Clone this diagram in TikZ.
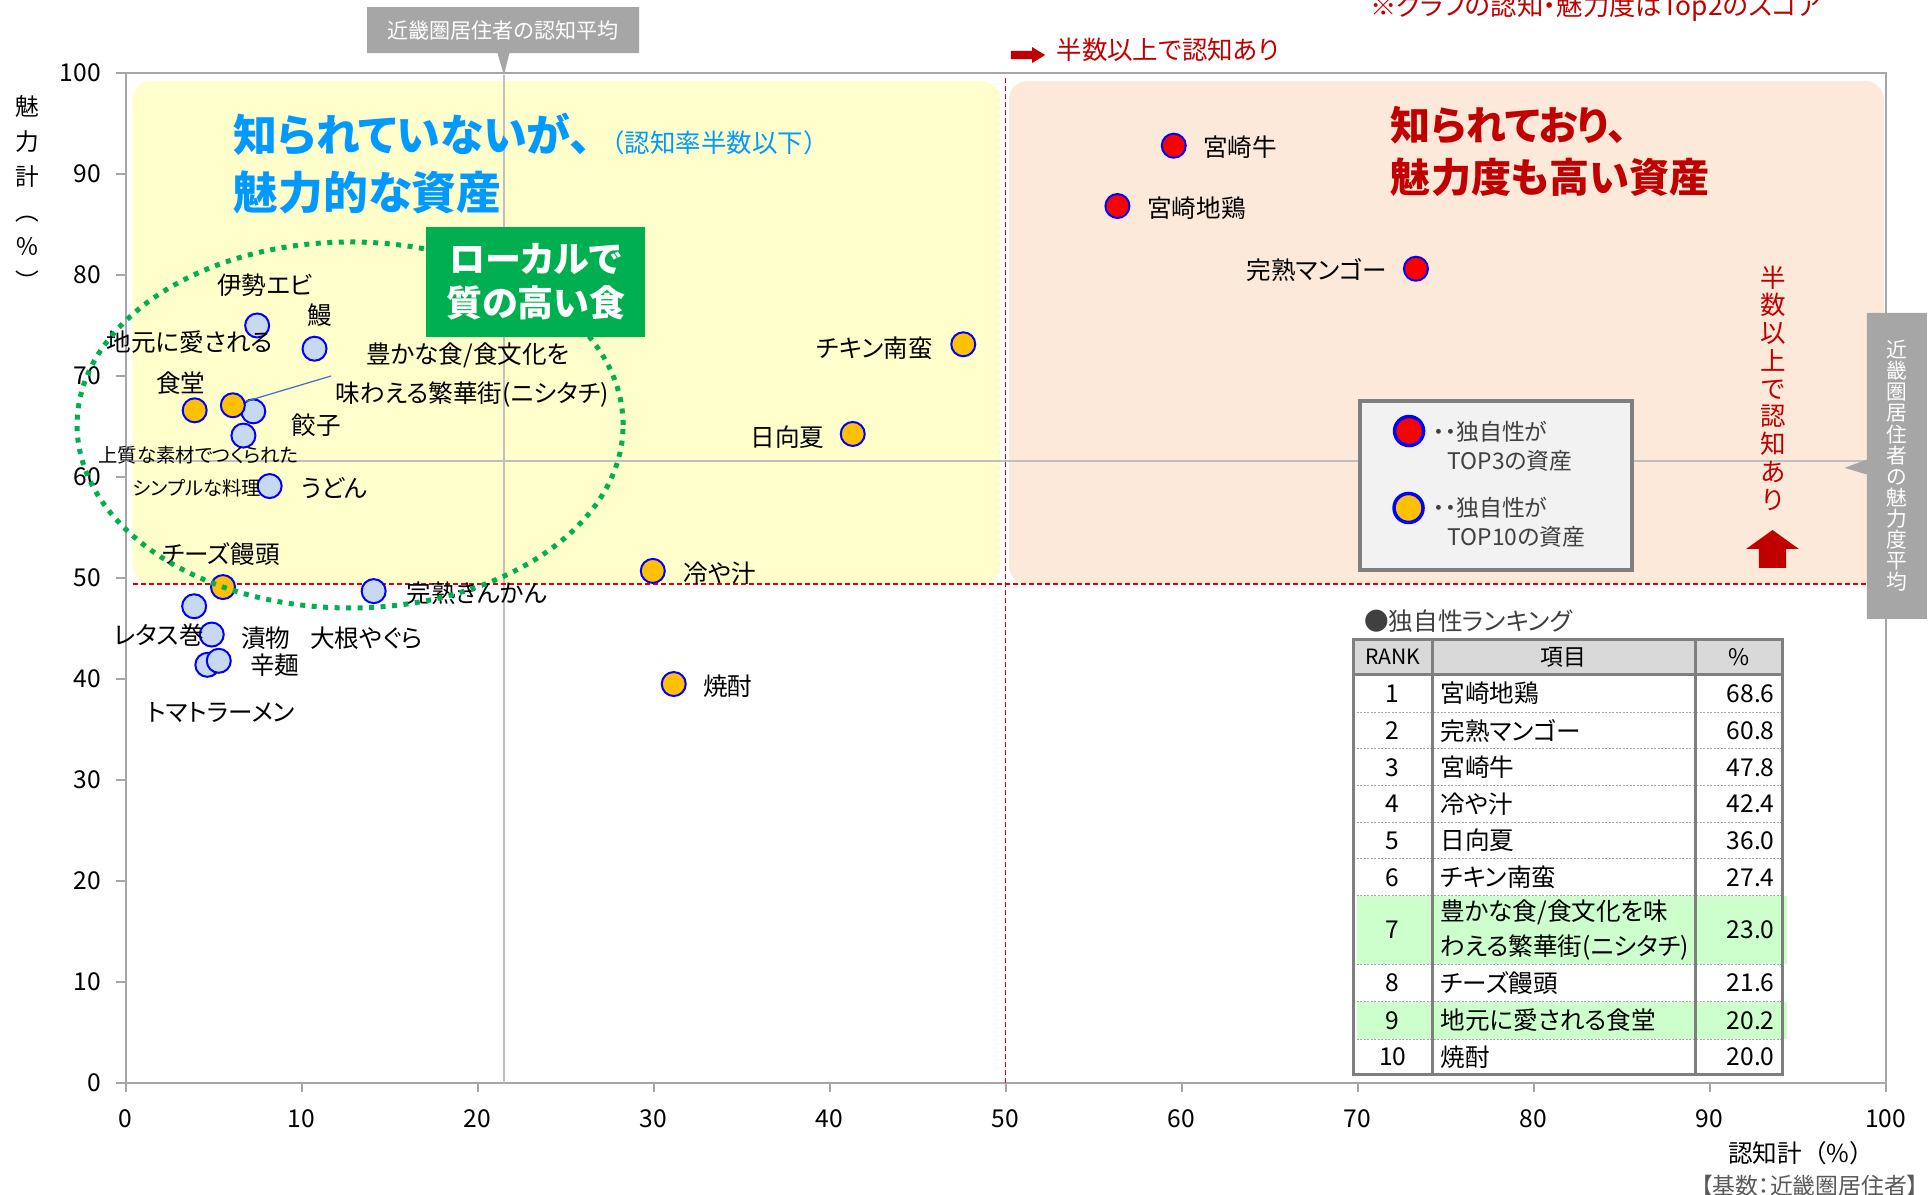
\documentclass[tikz,border=0pt]{standalone}
\usepackage{fontspec}
\setmainfont{Noto Sans CJK JP}[RawFeature=+palt]
\newfontfamily\fullwidth{Noto Sans CJK JP}
\usetikzlibrary{shapes.callouts}
\definecolor{skyblue}{HTML}{0099FF}
\definecolor{darkred}{HTML}{C00000}
\definecolor{dashred}{HTML}{E00000}
\definecolor{paleyellow}{HTML}{FFFFCC}
\definecolor{palepeach}{HTML}{FDE9D9}
\definecolor{markerblue}{HTML}{C6D9F1}
\definecolor{markerorange}{HTML}{FFC000}
\definecolor{localgreen}{HTML}{00B050}
\definecolor{calloutgray}{HTML}{A6A6A6}
\definecolor{axisgray}{HTML}{A6A6A6}
\definecolor{avggray}{HTML}{BFBFBF}
\definecolor{rowgreen}{HTML}{CCFFCC}
\definecolor{headgray}{HTML}{D9D9D9}
\definecolor{legendgray}{HTML}{F2F2F2}
\definecolor{framegray}{HTML}{7F7F7F}
\definecolor{textgray}{HTML}{404040}
\definecolor{basegray}{HTML}{595959}
\definecolor{leadblue}{HTML}{4472C4}

\begin{document}
\begin{tikzpicture}[x=0.352cm, y=0.202cm,
    asset/.style ={circle, draw=blue, line width=0.04cm, minimum size=0.48cm, inner sep=0pt},
    bluept/.style ={asset, fill=markerblue},
    orangept/.style ={asset, fill=markerorange},
    redpt/.style ={asset, fill=red},
    itemtext/.style ={inner sep=0pt, font=\fontsize{14}{16}\selectfont},
    smalltext/.style ={inner sep=0pt, font=\fontsize{11}{13}\selectfont},
    ticktext/.style ={inner sep=0pt, font=\fontsize{14}{16}\selectfont},
    graybox/.style ={fill=calloutgray, text=white, inner sep=0pt, font=\fontsize{12}{14}\selectfont},
    avgline/.style ={avggray, line width=0.04cm},
    halfline/.style ={dashred, line width=0.03cm, dash pattern=on 0.1cm off 0.06cm},
    tableline/.style ={framegray, line width=0.06cm},
    rowline/.style ={axisgray, line width=0.02cm, dash pattern=on 0.04cm off 0.03cm},
    rowtext/.style ={inner sep=0pt, font=\fontsize{14}{19.5}\selectfont},
    legendtext/.style ={inner sep=0pt, align=left, text=textgray, font=\fontsize{13}{16.5}\selectfont}]
   \clip (-7.131,-11.089) rectangle (102.528,107.228);
   \fill[white] (-7.131,-11.089) rectangle (102.528,107.228);
   \fill[paleyellow, rounded corners=0.36cm] (0.41,49.4) rectangle (49.7,99.2);
   \fill[palepeach, rounded corners=0.36cm] (50.2,49.4) rectangle (99.9,99.2);
   \draw[axisgray, line width=0.04cm] (0,0) rectangle (100,100);
   \foreach \v in {0,10,...,100}{
     \draw[axisgray, line width=0.04cm] (\v,0) -- (\v,-0.89);
     \draw[axisgray, line width=0.04cm] (0,\v) -- (-0.54,\v);
     \node[ticktext] (X\v) at (\v,-3.56) {\v};
     \node[ticktext, anchor=east] (Y\v) at (-1.39,\v) {\v};
   }
   \draw[avgline] (21.5,0) -- (21.5,99.8);
   \draw[avgline] (0,61.6) -- (100,61.6);
   \draw[halfline] (50,0) -- (50,99.5);
   \draw[halfline] (0.4,49.4) -- (100,49.4);

   \node[graybox, rectangle callout, callout absolute pointer={(21.5,99.8)}, callout pointer width=0.24cm,
     minimum width=5.44cm, minimum height=0.92cm] (CogAvg) at (21.45,104.25) {近畿圏居住者の認知平均};
   \node[graybox, rectangle callout, callout absolute pointer={(97.68,60.9)}, callout pointer width=0.3cm,
     minimum width=1.2cm, minimum height=6.12cm, align=center, font=\fontsize{11.8}{12}\selectfont]
     (AttrAvg) at (100.65,61.1) {近\\畿\\圏\\居\\住\\者\\の\\魅\\力\\度\\平\\均};

   \node[redpt] (Gyu) at (59.56,92.8) {};
   \node[redpt] (Jidori) at (56.36,86.83) {};
   \node[redpt] (Mango) at (73.32,80.62) {};
   \node[orangept] (Nanban) at (47.6,73.14) {};
   \node[orangept] (Hyuganatsu) at (41.32,64.26) {};
   \node[orangept] (Hiyajiru) at (29.96,50.7) {};
   \node[orangept] (Shochu) at (31.15,39.5) {};
   \node[bluept] (Kinkan) at (14.1,48.7) {};
   \node[bluept] (Ebi) at (7.48,75.0) {};
   \node[bluept] (Unagi) at (10.74,72.7) {};
   \node[bluept] (Gyoza) at (7.26,66.5) {};
   \node[bluept] (Joshitsu) at (6.7,64.1) {};
   \node[orangept] (Shokudo) at (3.93,66.6) {};
   \node[orangept] (Yutaka) at (6.1,67.1) {};
   \node[bluept] (Udon) at (8.19,59.1) {};
   \node[bluept] (Retasu) at (3.9,47.2) {};
   \node[orangept] (Cheese) at (5.54,49.1) {};
   \node[bluept] (Tsukemono) at (4.9,44.4) {};
   \node[bluept] (Tomato) at (4.65,41.4) {};
   \node[bluept] (Karamen) at (5.3,41.8) {};

   \node[itemtext, anchor=west] (GyuL) at (61.22,92.67) {宮崎牛};
   \node[itemtext, anchor=west] (JidoriL) at (58.04,86.63) {宮崎地鶏};
   \node[itemtext, anchor=east] (MangoL) at (71.7,80.5) {完熟マンゴー};
   \node[itemtext, anchor=east] (NanbanL) at (45.88,72.77) {チキン南蛮};
   \node[itemtext, anchor=east] (HyuganatsuL) at (39.74,63.96) {日向夏};
   \node[itemtext, anchor=west] (HiyajiruL) at (31.68,50.5) {冷や汁};
   \node[itemtext, anchor=west] (ShochuL) at (32.81,39.3) {焼酎};
   \node[itemtext, anchor=west] (KinkanL) at (15.94,48.5) {完熟きんかん};
   \node[itemtext, anchor=west] (DaikonL) at (10.48,44.06) {大根やぐら};
   \node[itemtext, anchor=west] (TsukemonoL) at (6.56,44.06) {漬物};
   \node[itemtext, anchor=west] (RetasuL) at (-0.68,44.36) {レタス巻};
   \node[itemtext, anchor=west] (KaramenL) at (7.06,41.39) {辛麺};
   \node[itemtext, anchor=west] (TomatoL) at (1.22,36.63) {トマトラーメン};
   \node[itemtext, anchor=west] (CheeseL) at (2.07,52.38) {チーズ饅頭};
   \node[itemtext, anchor=west] (EbiL) at (5.2,79.0) {伊勢エビ};
   \node[itemtext, anchor=west] (UnagiL) at (10.31,76.04) {鰻};
   \node[itemtext, anchor=west] (ShokudoL) at (-1.1,73.37) {地元に愛される};
   \node[itemtext, anchor=west] (ShokudoM) at (1.72,69.3) {食堂};
   \node[itemtext, anchor=west] (YutakaL) at (13.66,72.08) {豊かな食/食文化を};
   \node[itemtext, anchor=west] (YutakaM) at (11.93,68.12) {味わえる繁華街(ニシタチ)};
   \node[itemtext, anchor=west] (GyozaL) at (9.43,65.15) {餃子};
   \node[smalltext, anchor=west] (JoshitsuL) at (-1.56,62.18) {上質な素材でつくられた};
   \node[smalltext, anchor=west] (JoshitsuM) at (0.41,58.91) {シンプルな料理};
   \node[itemtext, anchor=west] (UdonL) at (9.97,58.91) {うどん};
   \coordinate (Lead) at (11.68,70.0);
   \draw[leadblue, line width=0.025cm] (Yutaka) -- (Lead);

   \draw[localgreen, line width=0.1cm, dash pattern=on 0.1cm off 0.13cm] (12.76,65.15) ellipse [x radius=5.46cm, y radius=3.66cm];
   \node[fill=localgreen, text=white, minimum width=4.38cm, minimum height=2.2cm, align=center,
     font=\bfseries\fontsize{20.5}{25}\selectfont] (Local) at (23.3,79.31) {ローカルで\\質の高い食};

   \node[inner sep=0pt, anchor=west, text=skyblue, font=\bfseries\fontsize{25}{30}\selectfont] (BlueA) at (6.12,93.96) {知られていないが、};
   \node[inner sep=0pt, anchor=west, text=skyblue, font=\fullwidth\fontsize{14.5}{16}\selectfont] (BlueNote) at (26.9,93.07) {（認知率半数以下）};
   \node[inner sep=0pt, anchor=west, text=skyblue, font=\bfseries\fontsize{25.5}{30}\selectfont] (BlueB) at (6.12,88.22) {魅力的な資産};
   \node[inner sep=0pt, anchor=west, text=darkred, font=\bfseries\fontsize{22.8}{27}\selectfont] (RedA) at (71.88,94.85) {知られており、};
   \node[inner sep=0pt, anchor=west, text=darkred, font=\bfseries\fontsize{22.8}{27}\selectfont] (RedB) at (71.88,89.7) {魅力度も高い資産};

   \node[inner sep=0pt, anchor=base west, text=darkred, font=\fontsize{15}{17}\selectfont] (Note) at (70.71,105.74) {※グラフの認知・魅力度はTop2のスコア};
   \fill[darkred] (50.31,101.38) -- (51.51,101.38) -- (51.51,100.99) -- (52.25,101.78) -- (51.51,102.57) -- (51.51,102.18) -- (50.31,102.18) -- cycle;
   \node[inner sep=0pt, anchor=west, text=darkred, font=\fontsize{14.5}{17}\selectfont] (HalfTop) at (52.88,102.28) {半数以上で認知あり};
   \node[inner sep=0pt, align=center, text=darkred, font=\fontsize{14.5}{15.8}\selectfont] (HalfSide) at (93.6,68.81) {半\\数\\以\\上\\で\\認\\知\\あ\\り};
   \fill[darkred] (92.81,50.99) -- (92.81,52.87) -- (92.08,52.87) -- (93.58,54.75) -- (95.08,52.87) -- (94.35,52.87) -- (94.35,50.99) -- cycle;

   \node[fill=legendgray, draw=framegray, line width=0.07cm, minimum width=5.44cm, minimum height=3.38cm] (Legend) at (77.87,59.16) {};
   \node[redpt, minimum size=0.58cm, line width=0.07cm] (LegRed) at (72.93,64.55) {};
   \node[legendtext, anchor=west] (LegRedT) at (74.3,63.07) {・・独自性が\\\hspace*{0.28cm}TOP3の資産};
   \node[orangept, minimum size=0.58cm, line width=0.07cm] (LegOrange) at (72.9,56.93) {};
   \node[legendtext, anchor=west] (LegOrangeT) at (74.3,55.5) {・・独自性が\\\hspace*{0.28cm}TOP10の資産};

   \node[inner sep=0pt, anchor=west, text=textgray, font=\fontsize{14}{16}\selectfont] (RankTitle) at (70.37,45.74) {●独自性ランキング};
   \fill[headgray] (69.76,40.40) rectangle (94.16,43.93);
   \fill[rowgreen] (69.97,11.75) rectangle (94.40,18.54);
   \fill[rowgreen] (69.97,4.33) rectangle (94.40,8.05);
   \foreach \y in {36.70,33.07,29.44,25.81,22.18,18.54,11.75,8.05,4.33}
     \draw[rowline] (69.76,\y) -- (94.16,\y);
   \draw[tableline] (69.76,0.79) rectangle (94.16,43.93);
   \draw[tableline] (74.25,0.79) -- (74.25,43.93);
   \draw[tableline] (89.18,0.79) -- (89.18,43.93);
   \draw[tableline] (69.76,40.40) -- (94.16,40.40);
   \node[inner sep=0pt, font=\fontsize{12}{14}\selectfont] (HRank) at (72.0,42.17) {RANK};
   \node[inner sep=0pt, font=\fontsize{13}{14}\selectfont] (HItem) at (81.7,42.17) {項目};
   \node[inner sep=0pt, font=\fontsize{13}{14}\selectfont] (HPct) at (91.67,42.17) {\%};
   \foreach \r/\y/\name/\val in {1/38.55/宮崎地鶏/68.6, 2/34.885/完熟マンゴー/60.8, 3/31.255/宮崎牛/47.8,
       4/27.625/冷や汁/42.4, 5/23.995/日向夏/36.0, 6/20.36/チキン南蛮/27.4,
       7/15.145/{豊かな食/食文化を味\\わえる繁華街(ニシタチ)}/23.0, 8/9.9/チーズ饅頭/21.6,
       9/6.19/地元に愛される食堂/20.2, 10/2.56/焼酎/20.0}{
     \node[rowtext] (R\r) at (72.0,\y) {\r};
     \node[rowtext, anchor=west, align=left] (N\r) at (74.69,\y) {\name};
     \node[rowtext, anchor=east] (V\r) at (93.72,\y) {\val};
   }

   \node[inner sep=0pt, align=center, font=\fontsize{13.5}{19.9}\selectfont] (YTitle) at (-5.6,88.1) {魅\\力\\計\\︵\\％\\︶};
   \node[inner sep=0pt, font=\fullwidth\fontsize{14}{16}\selectfont] (XTitle) at (95.2,-6.93) {認知計（\%）};
   \node[inner sep=0pt, text=basegray, font=\fontsize{13}{15}\selectfont] (Base) at (95.71,-10.2) {【基数：近畿圏居住者】};
 \end{tikzpicture}
\end{document}
